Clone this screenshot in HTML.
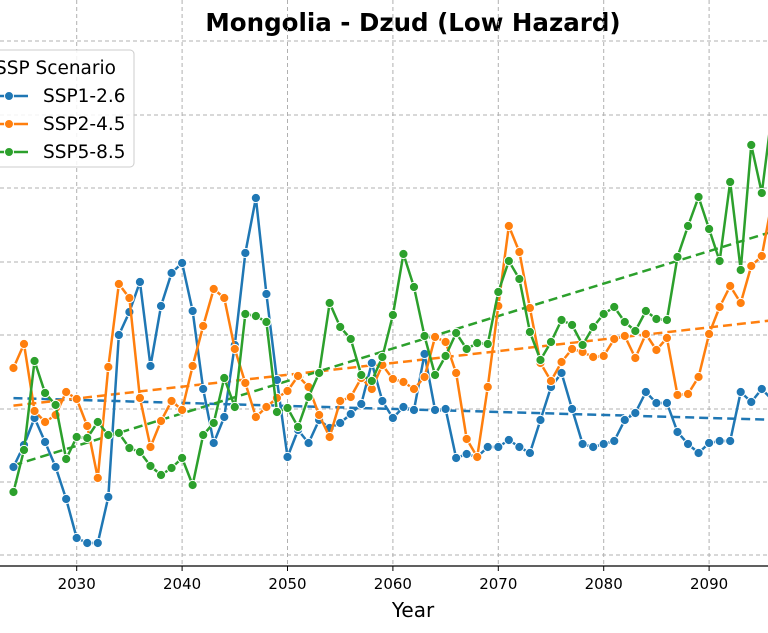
<!DOCTYPE html>
<html><head><meta charset="utf-8"><style>
body{margin:0;background:#fff;}
svg{display:block;font-family:"DejaVu Sans","Liberation Sans",sans-serif;}
</style></head><body>
<svg id="chart" width="768" height="633" viewBox="0 0 768 633">
<defs><clipPath id="plotclip"><rect x="0" y="0" width="768" height="566"/></clipPath></defs>
<text x="413" y="31" text-anchor="middle" font-size="24.5" font-weight="bold" fill="#000">Mongolia - Dzud (Low Hazard)</text>
<g id="grid"></g>
<g id="series" clip-path="url(#plotclip)"></g>
<line x1="0" y1="566" x2="768" y2="566" stroke="#000" stroke-width="1.2"/>
<g id="xticks"></g>
<text x="413" y="617" text-anchor="middle" font-size="20" fill="#000">Year</text>
<g>
<rect x="-8" y="50" width="142" height="117" rx="4" fill="#fff" fill-opacity="0.85" stroke="#ccc"/>
<text x="-5" y="74" font-size="18.5" fill="#000">SSP Scenario</text>
<g><line x1="-8" y1="96" x2="28" y2="96" stroke="#1f77b4" stroke-width="2.5"/><circle cx="9" cy="96" r="4.5" fill="#1f77b4" stroke="#fff"/><text x="43" y="102" font-size="18.5">SSP1-2.6</text></g>
<g><line x1="-8" y1="124" x2="28" y2="124" stroke="#ff7f0e" stroke-width="2.5"/><circle cx="9" cy="124" r="4.5" fill="#ff7f0e" stroke="#fff"/><text x="43" y="130" font-size="18.5">SSP2-4.5</text></g>
<g><line x1="-8" y1="152" x2="28" y2="152" stroke="#2ca02c" stroke-width="2.5"/><circle cx="9" cy="152" r="4.5" fill="#2ca02c" stroke="#fff"/><text x="43" y="158" font-size="18.5">SSP5-8.5</text></g>
</g>
</svg>
<script>
const years = Array.from({length:73},(_,i)=>2024+i);
const ssp126 = [9.3,11.5,14.2,11.8,9.3,6.1,2.2,1.7,1.7,6.3,22.5,24.8,27.8,19.4,25.4,28.7,29.7,24.9,17.1,11.7,14.3,21.5,30.7,36.2,26.6,18.0,10.3,13.0,11.7,14.0,13.2,13.7,14.6,15.6,19.7,15.9,14.2,15.3,15.0,20.6,15.0,15.1,10.2,10.6,10.3,11.3,11.3,12.0,11.3,10.7,14.0,17.3,18.7,15.1,11.6,11.3,11.6,11.9,14.0,14.7,16.8,15.7,15.7,12.8,11.6,10.7,11.7,11.9,11.9,16.8,15.8,17.1,16.0];
const ssp245 = [19.2,21.6,14.9,13.8,14.5,16.8,16.1,13.4,8.2,19.3,27.6,26.2,16.2,11.3,13.9,15.9,15.0,19.4,23.4,27.1,26.2,21.1,17.7,14.3,15.3,16.2,16.9,18.4,17.3,14.5,12.3,15.9,16.3,18.2,17.1,19.5,18.1,17.8,17.1,18.3,22.3,21.8,18.7,12.1,10.3,17.3,25.4,33.4,30.8,25.2,19.7,17.9,19.8,21.1,20.8,20.3,20.4,22.1,22.4,20.2,22.6,21.0,22.2,16.5,16.6,18.3,22.6,25.3,27.4,25.7,29.4,30.4,36.0];
const ssp585 = [6.8,11.0,19.9,16.7,15.5,10.1,12.3,12.2,13.8,12.5,12.7,11.2,10.8,9.4,8.5,9.2,10.2,7.5,12.5,13.7,18.2,15.3,24.6,24.4,23.8,14.8,15.2,13.3,16.3,18.7,25.7,23.3,22.1,18.5,17.9,20.3,24.5,30.6,27.3,22.4,18.5,20.4,22.7,21.1,21.7,21.6,26.8,29.9,28.1,22.8,20.0,21.8,24.0,23.5,21.5,23.3,24.6,25.3,23.8,22.9,24.9,24.1,24.0,30.3,33.4,36.3,33.1,29.9,37.8,29.0,41.5,36.7,45.0];
const xTicks = [2030,2040,2050,2060,2070,2080,2090];
const yGrid = [51.9,44.5,37.2,29.8,22.5,15.1,7.8,0.5];

const NS='http://www.w3.org/2000/svg';
const X = yr => 76.7 + (yr-2030)*10.54;
const Y = v => 560 - v*10;
function mk(tag, attrs, parent){const e=document.createElementNS(NS,tag);for(const k in attrs)e.setAttribute(k,attrs[k]);parent.appendChild(e);return e;}

const grid=document.getElementById('grid');
xTicks.forEach(t=>{
  const l=mk('line',{x1:X(t),x2:X(t),y1:0,y2:566,stroke:'#b0b0b0','stroke-dasharray':'4,3','stroke-width':1},grid);
  
  
});
yGrid.forEach(v=>{
  const l=mk('line',{x1:0,x2:768,y1:Y(v),y2:Y(v),stroke:'#b0b0b0','stroke-dasharray':'4,3','stroke-width':1},grid);
  
  
});
const xt=document.getElementById('xticks');
xTicks.forEach(t=>{
  const l=mk('line',{x1:X(t),x2:X(t),y1:566,y2:571,stroke:'#000','stroke-width':1},xt);
  
  
  const tx=mk('text',{x:X(t),y:589,'text-anchor':'middle','font-size':15,fill:'#000'},xt);
  tx.textContent=t;
  
  
});

const ser=document.getElementById('series');
const defs=[['ssp1-2.6',ssp126,'#1f77b4'],['ssp2-4.5',ssp245,'#ff7f0e'],['ssp5-8.5',ssp585,'#2ca02c']];
defs.forEach(([name,vals,col])=>{
  const n=vals.length;let sx=0,sy=0,sxx=0,sxy=0;
  for(let i=0;i<n;i++){sx+=years[i];sy+=vals[i];sxx+=years[i]*years[i];sxy+=years[i]*vals[i];}
  const b=(n*sxy-sx*sy)/(n*sxx-sx*sx),a=(sy-b*sx)/n;
  const y0=years[0],y1=years[n-1];
  const tr=mk('line',{x1:X(y0),y1:Y(a+b*y0),x2:X(y1),y2:Y(a+b*y1),stroke:col,'stroke-width':2.5,'stroke-dasharray':'9,5'},ser);
  
  
});
defs.forEach(([name,vals,col])=>{
  const g=mk('g',{},ser);
  
  
  const pts=vals.map((v,i)=>X(years[i])+','+Y(v)).join(' ');
  const pl=mk('polyline',{points:pts,fill:'none',stroke:col,'stroke-width':2.5,'stroke-linejoin':'round'},g);
  
  
  vals.forEach((v,i)=>{
    const c=mk('circle',{cx:X(years[i]),cy:Y(v),r:4.6,fill:col,stroke:'#fff','stroke-width':1},g);
    
    
  });
});
</script>
</body></html>
